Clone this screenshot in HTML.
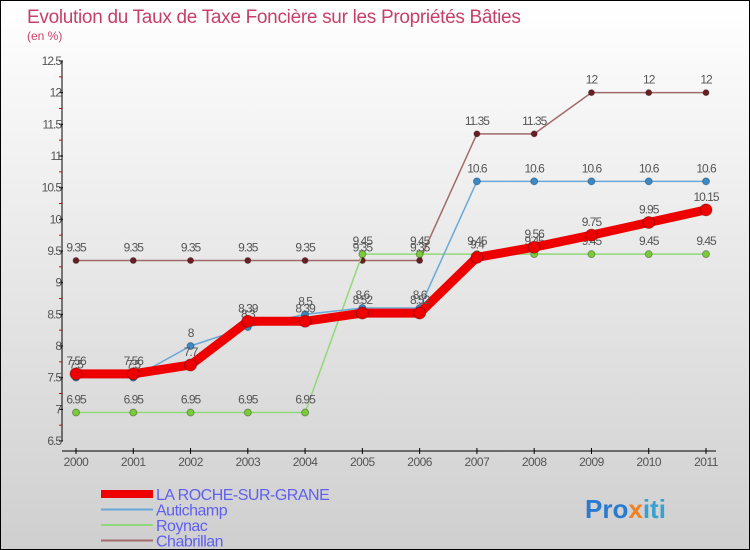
<!DOCTYPE html>
<html><head><meta charset="utf-8"><style>
body{margin:0}
#c{width:748px;height:548px;border:1px solid #000;background:linear-gradient(#fff,#cfcfcf);position:relative;font-family:"Liberation Sans",sans-serif;overflow:hidden}
</style></head><body>
<div id="c">
<svg id="s" width="748" height="548"></svg>
</div>
<script>
const years=[2000,2001,2002,2003,2004,2005,2006,2007,2008,2009,2010,2011];
const laRoche=[7.56,7.56,7.7,8.39,8.39,8.52,8.52,9.4,9.56,9.75,9.95,10.15];
const autichamp=[7.5,7.5,8,8.3,8.5,8.6,8.6,10.6,10.6,10.6,10.6,10.6];
const roynac=[6.95,6.95,6.95,6.95,6.95,9.45,9.45,9.45,9.45,9.45,9.45,9.45];
const chabrillan=[9.35,9.35,9.35,9.35,9.35,9.35,9.35,11.35,11.35,12,12,12];
const yTicks=[6.5,7,7.5,8,8.5,9,9.5,10,10.5,11,11.5,12,12.5];
const NS='http://www.w3.org/2000/svg';
const svg=document.getElementById('s');
const X=i=>75+i*(630/11);
const Y=v=>440-(v-6.5)*(380/6);
function el(t,a,p){const e=document.createElementNS(NS,t);for(const k in a)e.setAttribute(k,a[k]);(p||svg).appendChild(e);return e;}
function txt(x,y,s,a,p){const e=el('text',Object.assign({x:x,y:y,'font-size':11.5,fill:'#555'},a),p);e.textContent=s;return e;}
let t=txt(26,22,'Evolution du Taux de Taxe Foncière sur les Propriétés Bâties',{'font-size':19,fill:'#c8406a','letter-spacing':'-0.3'});

t=txt(26,39,'(en %)',{'font-size':12,fill:'#c8406a'});

let ax=el('g',{});
el('line',{x1:61,y1:60,x2:61,y2:440,stroke:'#000'},ax);
yTicks.forEach((v,i)=>{el('line',{x1:58,x2:62,y1:Y(v),y2:Y(v),stroke:'#000'},ax);
 if(i<yTicks.length-1)el('line',{x1:58,x2:61,y1:Y(v+0.25),y2:Y(v+0.25),stroke:'#d00'},ax);
 txt(60,Y(v)+4,String(v),{'text-anchor':'end','letter-spacing':'-1','font-size':12},ax);});
let xa=el('g',{});
el('line',{x1:61,y1:450,x2:715,y2:450,stroke:'#000'},xa);
years.forEach((y,i)=>{el('line',{x1:X(i),x2:X(i),y1:447,y2:453,stroke:'#000'},xa);
 txt(X(i),465,String(y),{'text-anchor':'middle','font-size':12,'letter-spacing':'-0.5'},xa);});
function series(name,data,color,w,r,dot){
 const g=el('g',{});
 el('polyline',{points:data.map((v,i)=>X(i)+','+Y(v)).join(' '),fill:'none',stroke:color,'stroke-width':w},g);
 data.forEach((v,i)=>{const c=el('circle',{cx:X(i),cy:Y(v),r:r,fill:dot,stroke:'rgba(0,0,0,0.3)'},g);
  
  const l=txt(X(i),Y(v)-9,String(v),{'text-anchor':'middle','letter-spacing':'-1','font-size':12},g);
  });
}
series('chabrillan',chabrillan,'#a06a6a',1.5,3,'#6b1e22');
series('roynac',roynac,'#90d878',1.5,3.5,'#7acb3a');
series('autichamp',autichamp,'#6aa8d8',1.5,3.5,'#3a8ac8');
series('la-roche',laRoche,'#ee0000',9,6,'#ee0000');
const leg=[['LA ROCHE-SUR-GRANE','#ee0000',8],['Autichamp','#6aa8d8',2],['Roynac','#90d878',2],['Chabrillan','#a06a6a',2]];
leg.forEach((l,i)=>{const g=el('g',{});
 const y=493+i*15.5;el('line',{x1:100,x2:152,y1:y,y2:y,stroke:l[1],'stroke-width':l[2]},g);
 txt(155,y+6,l[0],{'font-size':16,fill:'#6060f0','letter-spacing':'-0.5'},g);});
const p=txt(584,517,'',{'font-size':26,'font-weight':'bold',fill:'#2a7ad0'});

[['Pro','#2a7ad0'],['x','#f08020'],['iti','#3aa0d0']].forEach(a=>{const s=el('tspan',{fill:a[1]},p);s.textContent=a[0];});
</script>
</body></html>
